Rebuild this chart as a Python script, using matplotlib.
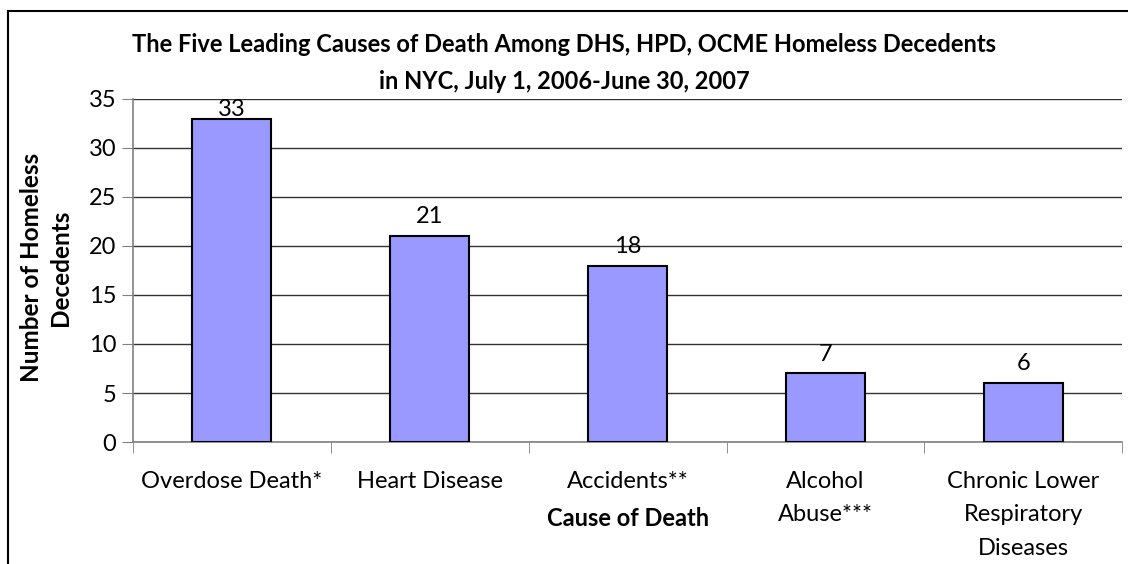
import numpy as np
import matplotlib
matplotlib.use("Agg")
import matplotlib.pyplot as plt
from matplotlib.lines import Line2D

plt.rcParams["font.family"] = ["Lato", "DejaVu Sans"]

CAUSES = ["Overdose Death*", "Heart Disease", "Accidents**",
          "Alcohol\nAbuse***", "Chronic Lower\nRespiratory\nDiseases"]
DEATHS = [33, 21, 18, 7, 6]
YTICKS = [0, 5, 10, 15, 20, 25, 30, 35]

fig = plt.figure(figsize=(11.28, 5.64), dpi=100)
ax = fig.add_axes([0.1179, 0.2163, 0.877, 0.6082])

x = np.arange(len(CAUSES))
ax.bar(x, DEATHS, width=0.4, color="#9999ff", edgecolor="black", linewidth=1.5, zorder=3)

ax.set_xlim(-0.5, len(CAUSES) - 0.5)
ax.set_ylim(0, 35)
ax.set_yticks(YTICKS)
ax.tick_params(axis="y", labelsize=17, length=8, direction="out", color="#808080", pad=4)
ax.set_xticks(x)
ax.set_xticklabels(CAUSES, fontsize=17, linespacing=1.72, va="top")
ax.tick_params(axis="x", length=0, pad=21)
# category separator ticks
ax.set_xticks(np.arange(-0.5, len(CAUSES)), minor=True)
ax.tick_params(axis="x", which="minor", length=8, direction="out", color="#808080")

ax.yaxis.grid(True, color="#333333", linewidth=1.0, zorder=0)
for s in ["top", "right"]:
    ax.spines[s].set_visible(False)
for s in ["left", "bottom"]:
    ax.spines[s].set_color("#808080")
    ax.spines[s].set_linewidth(1.2)

# data labels, kept inside the plot area
for xi, v in zip(x, DEATHS):
    ax.text(xi, min(v + 0.9, 35 - 2.1), str(v), ha="center", va="bottom", fontsize=17)

ax.set_xlabel("Cause of Death", fontsize=17, fontweight="bold", va="center")
ax.xaxis.set_label_coords(0.5, -0.222)
fig.text(0.041, 0.525, "Number of Homeless\nDecedents", rotation=90, ha="center", va="center",
         fontsize=17.5, fontweight="bold", linespacing=1.3)

fig.text(0.5, 0.888, "The Five Leading Causes of Death Among DHS, HPD, OCME Homeless Decedents\n"
         "in NYC, July 1, 2006-June 30, 2007", ha="center", va="center",
         fontsize=17, fontweight="bold", linespacing=1.75)

# outer chart frame (left and top edges visible)
fig.add_artist(Line2D([0.0075, 0.0075], [0, 0.9805], color="black", linewidth=1.5))
fig.add_artist(Line2D([0.0075, 1.0], [0.9805, 0.9805], color="black", linewidth=1.5))

fig.savefig("out.png", dpi=100)
